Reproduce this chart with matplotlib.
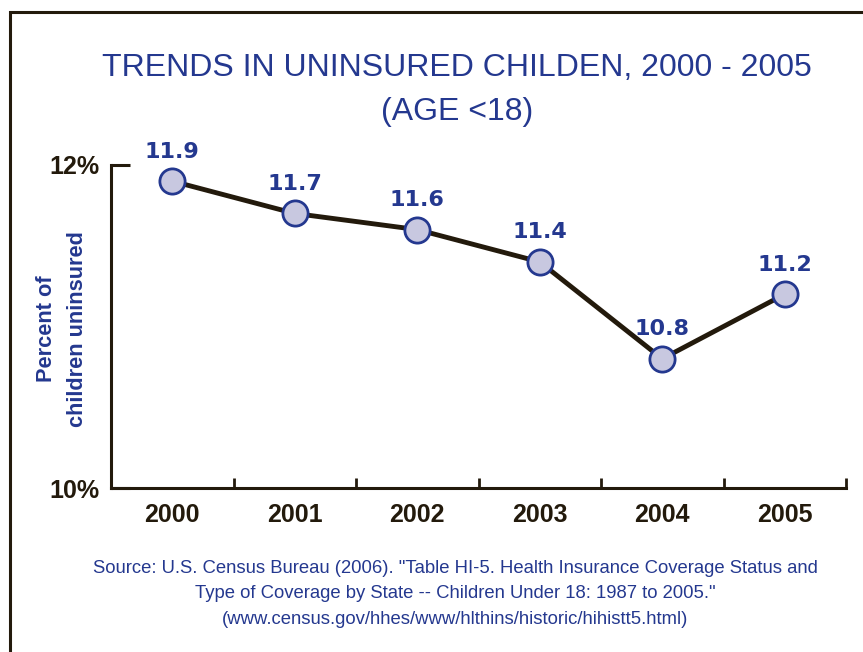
import matplotlib
matplotlib.use('Agg')
import matplotlib.pyplot as plt
from matplotlib.patches import Rectangle

# ---------------------- data ----------------------
years = ['2000', '2001', '2002', '2003', '2004', '2005']
uninsured = [11.9, 11.7, 11.6, 11.4, 10.8, 11.2]
y_ticks = [10, 12]
y_tick_labels = ['10%', '12%']

title = 'TRENDS IN UNINSURED CHILDEN, 2000 - 2005\n(AGE <18)'
ylabel = 'Percent of\nchildren uninsured'
source = ('Source: U.S. Census Bureau (2006). "Table HI-5. Health Insurance Coverage Status and\n'
          'Type of Coverage by State -- Children Under 18: 1987 to 2005."\n'
          '(www.census.gov/hhes/www/hlthins/historic/hihistt5.html)')

blue = '#24388f'
dark = '#231a0c'

plt.rcParams['font.family'] = ['Liberation Sans', 'DejaVu Sans']

fig = plt.figure(figsize=(8.63, 6.52), dpi=100)
fig.patch.set_facecolor('white')

# frame around the slide (cut at right and bottom)
fig.patches.append(Rectangle((10 / 863, -0.05), 1.0, 1 - 12 / 652 + 0.05,
                             transform=fig.transFigure, fill=False,
                             edgecolor=dark, linewidth=2.2))

ax = fig.add_axes([111 / 863, 1 - 488 / 652, 735 / 863, 323 / 652])
x = list(range(len(years)))
ax.plot(x, uninsured, color=dark, linewidth=3.5, zorder=2)
ax.scatter(x, uninsured, s=330, color='#c8c8e0', edgecolor=blue,
           linewidth=2, zorder=3)
for xi, v in zip(x, uninsured):
    ax.annotate(f'{v}', (xi, v), xytext=(0, 14), textcoords='offset points',
                ha='center', va='bottom', color=blue, fontsize=16,
                fontweight='bold', family='DejaVu Sans')

ax.set_xlim(-0.5, len(years) - 0.5)
ax.set_ylim(y_ticks[0], y_ticks[-1])

for s in ['top', 'right']:
    ax.spines[s].set_visible(False)
for s in ['left', 'bottom']:
    ax.spines[s].set_color(dark)
    ax.spines[s].set_linewidth(2.2)

ax.set_yticks(y_ticks)
ax.set_yticklabels(y_tick_labels, fontsize=18, fontweight='bold', color=dark)
ax.tick_params(axis='y', direction='in', length=14, width=2.2, color=dark, pad=8)

# category boundary ticks on the x axis
ax.set_xticks([i + 0.5 for i in x])
ax.set_xticklabels([])
ax.tick_params(axis='x', direction='in', length=7, width=2, color=dark)
for xi, yr in zip(x, years):
    ax.text(xi, -0.045, yr, transform=ax.get_xaxis_transform(), ha='center',
            va='top', fontsize=18, fontweight='bold', color=dark)

fig.text(62 / 863, 1 - 329 / 652, ylabel, rotation=90, ha='center', va='center',
         color=blue, fontsize=15.7, fontweight='bold', linespacing=1.6)

fig.text(457 / 863, 1 - 90 / 652, title, ha='center', va='center', color=blue,
         fontsize=23, linespacing=1.6)

fig.text(455 / 863, 1 - 594 / 652, source, ha='center', va='center', color=blue,
         fontsize=13.3, linespacing=1.62)

fig.savefig('out.png', dpi=100)
